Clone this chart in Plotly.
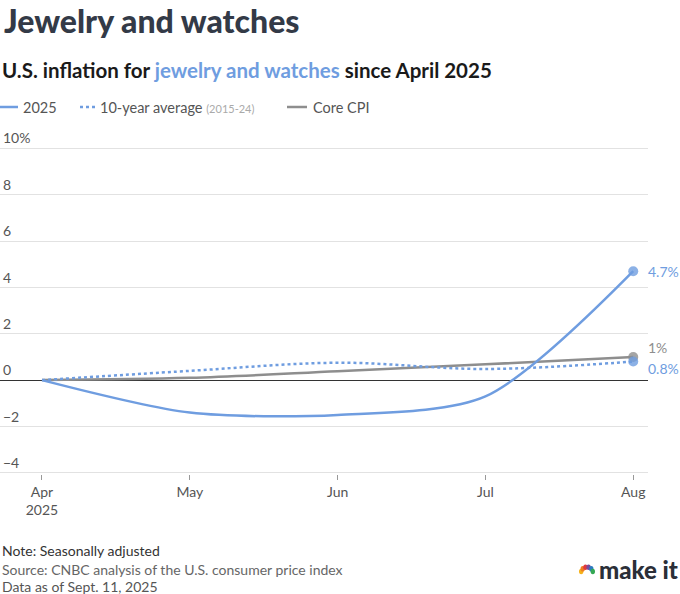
import math
import plotly.graph_objects as go

# Datos (variación acumulada en %, desde abril 2025)
months = ["Apr<br>2025", "May", "Jun", "Jul", "Aug"]
jewelry_2025 = [0, -1.4, -1.5, -0.7, 4.7]
ten_year_avg = [0, 0.4, 0.75, 0.48, 0.8]
core_cpi = [0, 0.1, 0.38, 0.68, 1.0]
y_ticks = [10, 8, 6, 4, 2, 0, -2, -4]
y_tick_labels = ["10%", "8", "6", "4", "2", "0", "\u22122", "\u22124"]

BLUE = "#6f9de0"
GREY = "#8e8e8e"
FONT = "Lato"

# Geometría del área de trazado (píxeles)
TOP, BOTTOM, RIGHT = 146, 474, 648
H = BOTTOM - TOP


def py2paper(py):
    return (BOTTOM - py) / H


x = list(range(len(months)))

fig = go.Figure()

fig.add_trace(go.Scatter(
    x=x, y=core_cpi, mode="lines", line=dict(color=GREY, width=2.5, shape="spline"),
    cliponaxis=False, hoverinfo="skip"))
fig.add_trace(go.Scatter(
    x=x, y=ten_year_avg, mode="lines", line=dict(color=BLUE, width=2.5, dash="dot", shape="spline"),
    cliponaxis=False, hoverinfo="skip"))
fig.add_trace(go.Scatter(
    x=x, y=jewelry_2025, mode="lines", line=dict(color=BLUE, width=2.5, shape="spline", smoothing=0.8),
    cliponaxis=False, hoverinfo="skip"))

# Puntos finales
fig.add_trace(go.Scatter(
    x=[x[-1], x[-1], x[-1]], y=[core_cpi[-1], ten_year_avg[-1], jewelry_2025[-1]],
    mode="markers", marker=dict(size=10, color=[GREY, BLUE, BLUE], opacity=0.8),
    cliponaxis=False, hoverinfo="skip"))

# Etiquetas finales
end_labels = [
    (jewelry_2025[-1], f"{jewelry_2025[-1]}%", BLUE, 0),
    (core_cpi[-1], "1%", GREY, 9),
    (ten_year_avg[-1], f"{ten_year_avg[-1]}%", BLUE, -7),
]
for yv, txt, col, ys in end_labels:
    fig.add_annotation(x=x[-1], y=yv, text=txt, showarrow=False, xanchor="left",
                       xshift=13, yshift=ys, font=dict(family=FONT, size=14, color=col))

# Títulos
fig.add_annotation(xref="paper", yref="paper", x=0, y=py2paper(20), yanchor="middle", xanchor="left",
                   xshift=2, text="Jewelry and watches", showarrow=False,
                   font=dict(family=FONT, size=32, color="#333a47", weight=900))
fig.add_annotation(xref="paper", yref="paper", x=0, y=py2paper(70), yanchor="middle", xanchor="left",
                   text=f"U.S. inflation for <span style='color:{BLUE}'>jewelry and watches</span> since April 2025",
                   showarrow=False, font=dict(family=FONT, size=20.5, color="#1a1a1a", weight=700))

# Leyenda personalizada
leg_y = py2paper(107)
legend_items = [
    (0, 18, "2025", "solid", BLUE, 23),
    (80, 97, "10-year average <span style='font-size:11px;color:#aaa'>(2015-24)</span>", "dot", BLUE, 100),
    (287, 307, "Core CPI", "solid", GREY, 313),
]
for x0, x1, label, dash, color, tx in legend_items:
    fig.add_shape(type="line", xref="paper", yref="paper", x0=x0 / RIGHT, x1=x1 / RIGHT,
                  y0=leg_y, y1=leg_y, line=dict(color=color, width=2.5, dash=dash))
    fig.add_annotation(xref="paper", yref="paper", x=tx / RIGHT, y=leg_y, xanchor="left", yanchor="middle",
                       xshift=-2, text=label, showarrow=False, font=dict(family=FONT, size=14.5, color="#555"))

# Notas al pie
footer = [
    ("Note: Seasonally adjusted", "#333", 550),
    ("Source: CNBC analysis of the U.S. consumer price index", "#666", 569),
    ("Data as of Sept. 11, 2025", "#555", 586),
]
for txt, col, py in footer:
    fig.add_annotation(xref="paper", yref="paper", x=0, y=py2paper(py), xanchor="left",
                       yanchor="middle", text=txt, showarrow=False,
                       font=dict(family=FONT, size=14, color=col))

# Logo "make it" con un pavo real simplificado
fig.add_annotation(xref="paper", yref="paper", x=680 / RIGHT, y=py2paper(569), xanchor="right",
                   yanchor="middle", text="make it", showarrow=False,
                   font=dict(family=FONT, size=24, color="#2b2f38", weight=900))
peacock = ["#f6b21a", "#ef7d22", "#e03a3e", "#7a4a9c", "#2b7bc0", "#34a853"]
cx, cy = 587, 573
for i, col in enumerate(peacock):
    ang = math.pi * (0.92 - i * 0.168)
    px_, py_ = cx + 6 * math.cos(ang), cy - 6 * math.sin(ang)
    fig.add_shape(type="circle", xref="paper", yref="paper",
                  x0=(px_ - 2.2) / RIGHT, x1=(px_ + 2.2) / RIGHT,
                  y0=py2paper(py_ + 2.8), y1=py2paper(py_ - 2.8),
                  fillcolor=col, line=dict(width=0))

fig.update_layout(
    width=680, height=594,
    margin=dict(l=0, r=680 - RIGHT, t=TOP, b=594 - BOTTOM),
    paper_bgcolor="white", plot_bgcolor="white",
    showlegend=False,
    font=dict(family=FONT, size=13, color="#555"),
    xaxis=dict(
        range=[-0.284, 4.1], tickvals=x, ticktext=months,
        showgrid=False, zeroline=False, showline=False,
        ticks="outside", ticklen=5, tickcolor="#999",
        tickfont=dict(family=FONT, size=14, color="#555"),
    ),
    yaxis=dict(
        range=[-4.05, 10.1], tickvals=y_ticks, ticktext=y_tick_labels,
        ticklabelposition="inside top", ticklabeloverflow="allow",
        showgrid=True, gridcolor="#e2e2e2", gridwidth=1,
        zeroline=True, zerolinecolor="#333", zerolinewidth=1,
        showline=False, tickfont=dict(family=FONT, size=14, color="#555"),
    ),
)

# Quitar el margen por defecto del <body>
fig.write_html("out.html", config={"displayModeBar": False},
               post_script="document.body.style.margin='0';")
